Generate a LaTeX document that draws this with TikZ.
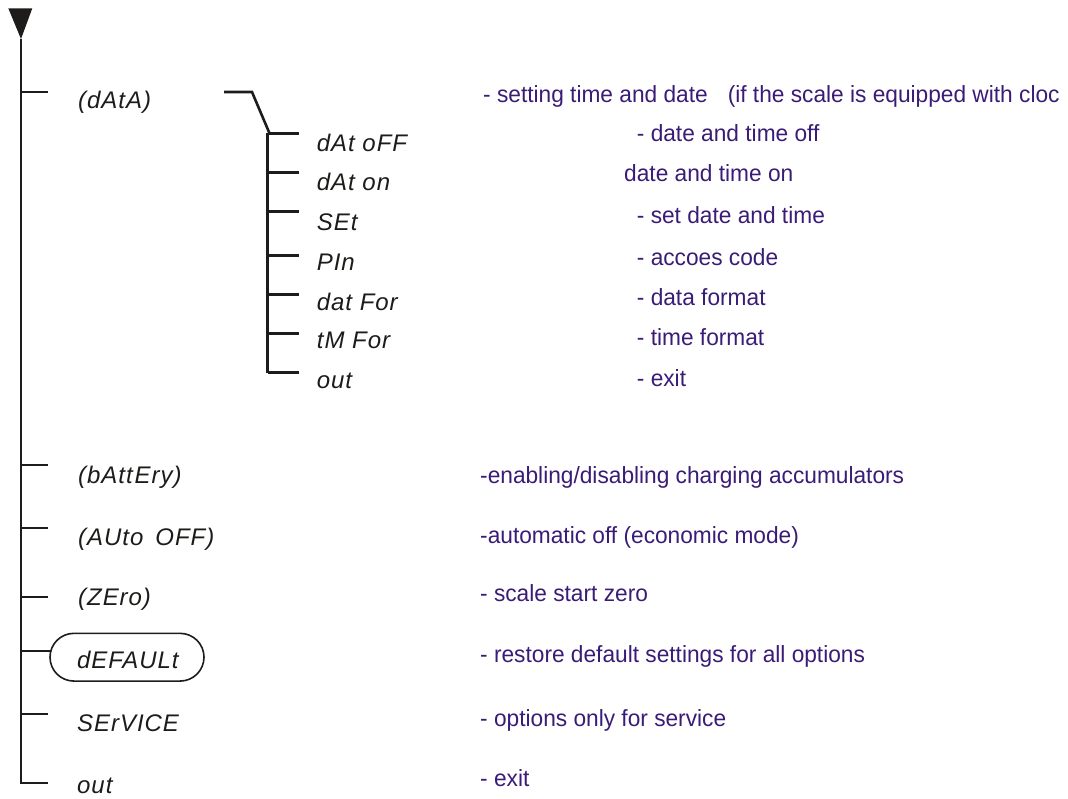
\documentclass[tikz,border=0pt]{standalone}
\usepackage{fontspec}
\setmainfont{Liberation Sans}
\newfontfamily\lblfont{Liberation Sans}[LetterSpace=4]
\newfontfamily\descfont{Liberation Sans}[FakeStretch=0.97]
\usetikzlibrary{shapes.misc}
\definecolor{ink}{RGB}{30,28,26}
\definecolor{desc}{RGB}{58,28,118}
\begin{document}
\begin{tikzpicture}[x=1pt,y=-1pt,
  lbl/.style={anchor=base west,inner sep=0pt,text=ink,font=\lblfont\itshape\fontsize{24}{28}\selectfont},
  dsc/.style={anchor=base west,inner sep=0pt,text=desc,font=\descfont\fontsize{23.4}{27}\selectfont},
  trunk/.style={draw=ink,line width=2pt},
  subline/.style={draw=ink,line width=2.6pt},
  defbox/.style={draw=ink,line width=1.6pt,rounded rectangle,minimum width=154pt,minimum height=47.7pt,inner sep=0pt}]
\useasboundingbox (0,0) rectangle (1068,798);
\clip (0,0) rectangle (1068,798);
% trunk
\coordinate (top) at (21,39);
\coordinate (t1) at (21,91.7);
\coordinate (t2) at (21,465);
\coordinate (t3) at (21,528.3);
\coordinate (t4) at (21,597.3);
\coordinate (t5) at (21,650.7);
\coordinate (t6) at (21,714.3);
\coordinate (t7) at (21,783.3);
\fill[ink] (8.3,8.3) -- (32.3,8.3) -- (top) -- cycle;
\draw[trunk] (top) -- (t7) -- ++(27,0);
\foreach \i in {1,2,3,4,6} {\draw[trunk] (t\i) -- ++(26.7,0);}
\node[defbox] (dbox) at (127,657.2) {};
\draw[trunk] (t5) -- (51,650.7);
% main labels
\node[lbl] (dAtA) at (78,108) {(dAtA)};
\node[lbl] (bat) at (78,483.3) {(bAtt\kern2pt Ery)};
\node[lbl] (auto) at (78,545) {(AUto\hspace{12pt}OFF)};
\node[lbl] (zero) at (78,605) {(ZEro)};
\node[lbl] (def) at (77,668) {dEFAULt};
\node[lbl] (serv) at (77,731.7) {SErVICE};
\node[lbl] (out) at (77,793) {out};
% sub tree
\coordinate (a0) at (224,92);
\coordinate (a1) at (252,92);
\coordinate (s1) at (267.7,133.3);
\coordinate (s2) at (267.7,172.3);
\coordinate (s3) at (267.7,211.3);
\coordinate (s4) at (267.7,255.7);
\coordinate (s5) at (267.7,294.3);
\coordinate (s6) at (267.7,333.3);
\coordinate (s7) at (267.7,372.7);
\draw[subline,line join=miter] (a0) -- (a1) -- (269.5,133.3);
\draw[subline] (s1) -- (s7);
\foreach \i in {1,...,7} {\draw[subline] (s\i) -- ++(31.3,0);}
\node[lbl] (l1) at (316.7,151) {dAt oFF};
\node[lbl] (l2) at (316.7,190.7) {dAt on};
\node[lbl] (l3) at (316.7,230) {SEt};
\node[lbl] (l4) at (316.7,270) {PIn};
\node[lbl] (l5) at (316.7,310) {dat For};
\node[lbl] (l6) at (316.7,348.3) {tM For};
\node[lbl] (l7) at (316.7,388.3) {out};
% descriptions
\node[dsc] (d0) at (483,102.7) {- setting time and date\hspace{20pt}(if the scale is equipped with cloc};
\node[dsc] (d1) at (636.7,141) {- date and time off};
\node[dsc] (d2) at (624,181.7) {date and time on};
\node[dsc] (d3) at (636.7,223.3) {- set date and time};
\node[dsc] (d4) at (636.7,265.7) {- accoes code};
\node[dsc] (d5) at (636.7,305) {- data format};
\node[dsc] (d6) at (636.7,345) {- time format};
\node[dsc] (d7) at (636.7,386.7) {- exit};
\node[dsc] (e1) at (480,483.3) {-enabling/disabling charging accumulators};
\node[dsc] (e2) at (480,543.3) {-automatic off (economic mode)};
\node[dsc] (e3) at (480,601.7) {- scale start zero};
\node[dsc] (e4) at (480,662.7) {- restore default settings for all options};
\node[dsc] (e5) at (480,726.7) {- options only for service};
\node[dsc] (e6) at (480,786.7) {- exit};
\end{tikzpicture}
\end{document}
